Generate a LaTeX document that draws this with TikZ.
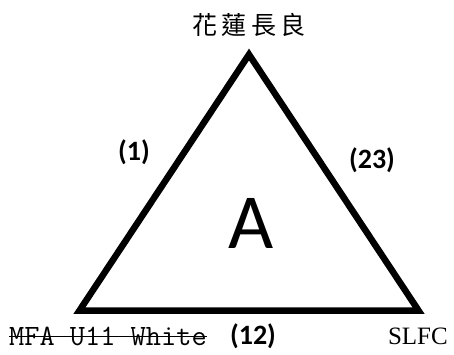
\documentclass[tikz,border=0pt]{standalone}
\usepackage{fontspec}
\setmainfont{Liberation Serif}
\newfontfamily\cjkfont{Noto Sans CJK TC}
\newfontfamily\calfont{Carlito}
\tikzset{
  lbl/.style={inner sep=0pt, font=\calfont\bfseries\fontsize{28}{30}\selectfont},
  tri/.style={line width=6.5pt, line join=miter},
}
\begin{document}
\begin{tikzpicture}[x=1pt,y=-1pt]
\useasboundingbox (0,0) rectangle (454,355);
\coordinate (top) at (249,54.5);
\coordinate (bl) at (79.5,310.5);
\coordinate (br) at (418.5,310.5);
\draw[tri] (top) -- (bl) -- (br) -- cycle;
\node[inner sep=0pt, font=\cjkfont\fontsize{25}{27}\selectfont] (t) at (249,25) {花\,蓮\,長\,良};
\node[lbl] (l1) at (134,152) {(1)};
\node[lbl] (l23) at (372,160) {(23)};
\node[lbl, anchor=base] (l12) at (253,344) {(12)};
\node[inner sep=0pt, anchor=base, font=\calfont\fontsize{78}{80}\selectfont] (A) at (251,248) {A};
\node[inner sep=0pt, anchor=base west, font=\ttfamily\fontsize{29.5}{31}\selectfont] (m) at (9,345) {MFA U11 White};
\draw[line width=1.3pt] (m.west |- 0,336.5) -- (m.east |- 0,336.5);
\node[inner sep=0pt, anchor=base east, font=\fontsize{25}{27}\selectfont] (s) at (448,344) {SLFC};
\end{tikzpicture}
\end{document}
